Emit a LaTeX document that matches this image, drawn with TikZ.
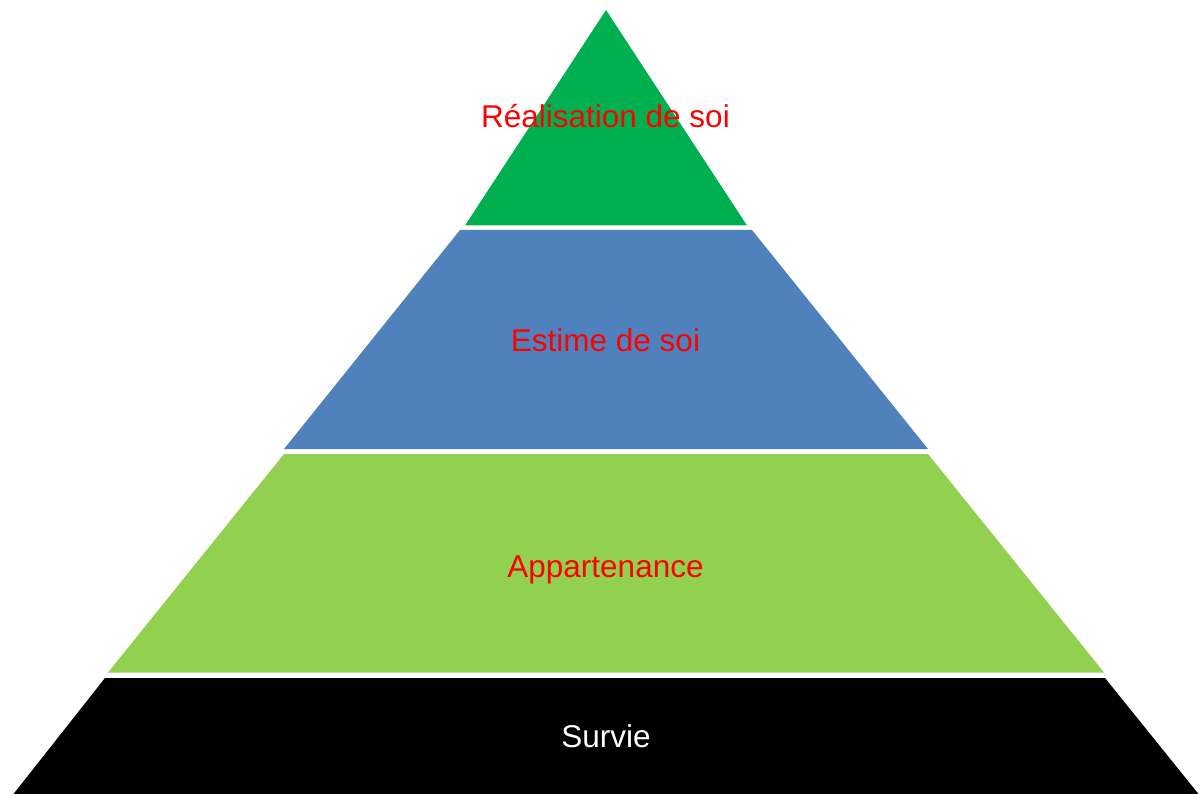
\documentclass[tikz,border=0pt]{standalone}
\usepackage{fontspec}
\setmainfont{Liberation Sans}
\usepackage{tikz}
\definecolor{topgreen}{RGB}{0,176,80}
\definecolor{steelblue}{RGB}{79,129,189}
\definecolor{lightgreen}{RGB}{146,208,80}
\tikzset{
  level/.style={line width=0pt,draw=none},
  label/.style={anchor=base,font=\fontsize{31.5}{36}\selectfont,inner sep=0pt}
}
\begin{document}
\begin{tikzpicture}[line cap=round,line join=round,x=1pt,y=-1pt]
\useasboundingbox (0,0) rectangle (1200,794);
\fill [level,fill=topgreen] (606,10)-- (747,225.5)-- (465,225.5)-- cycle;
\fill [level,fill=steelblue] (460,230)-- (752,230)-- (928,449)-- (284,449)-- cycle;
\fill [level,fill=lightgreen] (284,454)-- (928,454)-- (1104,672.5)-- (108,672.5)-- cycle;
\fill [level,fill=black] (105,678)-- (1105,678)-- (1198.5,794)-- (13.5,794)-- cycle;
\node[label,color=red] (realisation) at (605.5,127.5) {Réalisation de soi};
\node[label,color=red] (estime) at (605.5,352) {Estime de soi};
\node[label,color=red] (appartenance) at (605.5,577) {Appartenance};
\node[label,color=white] (survie) at (606,747) {Survie};
\end{tikzpicture}
\end{document}
